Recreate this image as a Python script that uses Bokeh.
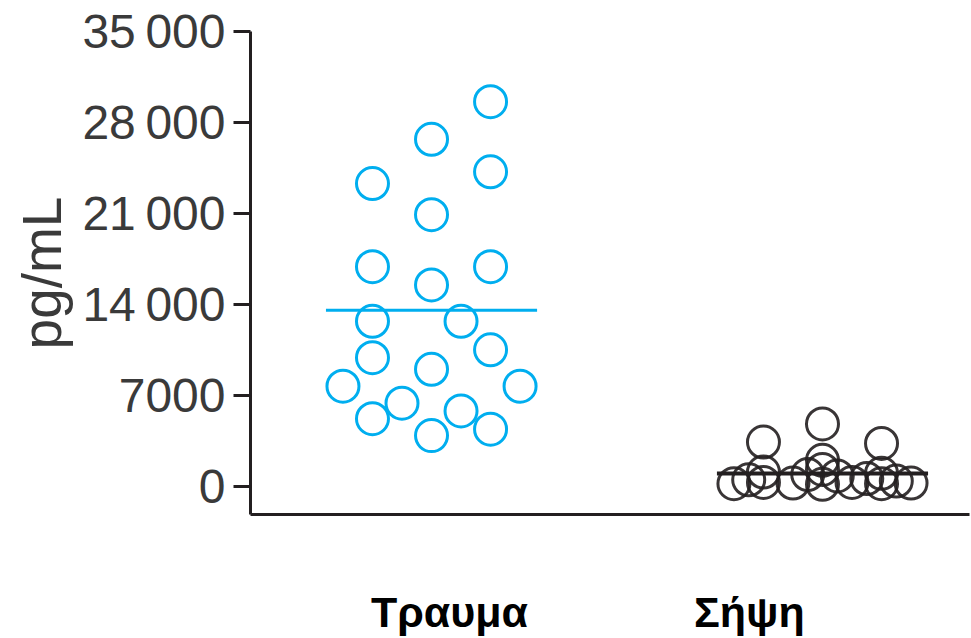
from bokeh.plotting import figure
from bokeh.models import FixedTicker, Range1d
from bokeh.embed import file_html
from bokeh.resources import INLINE

# ---- data ----
groups = ["Τραυμα", "Σήψη"]
group_pos = [1, 2]                 # x position of each group
label_pos = [1.046, 1.813]         # where the group names are printed

trauma_values = [29600, 26700, 24200, 23300, 20900, 16900, 16900, 15500, 12700, 12700,
                 10500, 9900, 9000, 7700, 7700, 6400, 5200, 5800, 4400, 3900]
trauma_slots = [2, 0, 2, -2, 0, -2, 2, 0, -2, 1,
                2, -2, 0, -3, 3, -1, -2, 1, 2, 0]

sepsis_values = [3400, 4800, 3300, 200, 300, 250, 150, 300, 200, 250,
                 1100, 2000, 1300, 900, 800, 1000, 600, 500, 400]
sepsis_slots = [-2, 0, 2, -3, -2, -1, 0, 1, 2, 3,
                -2, 0, 0, -0.5, 0.5, 2, 1.5, -2.5, 2.5]

means = [13550, 990]

y_ticks = [0, 7000, 14000, 21000, 28000, 35000]
y_tick_labels = ["0", "7000", "14\u2009000", "21\u2009000", "28\u2009000", "35\u2009000"]

# ---- styling ----
slot_step = 0.0755
half_width = 0.27
blue = "#00AEEF"
dark = "#231F20"
tick_col = "#3a3a3a"

p = figure(width=971, height=638, output_backend="svg", toolbar_location=None,
           x_range=Range1d(0.537, 2.376), y_range=Range1d(-2170, 35000),
           min_border_left=250, min_border_right=2, min_border_top=31, min_border_bottom=124)
p.outline_line_color = None
p.xgrid.visible = False
p.ygrid.visible = False
p.background_fill_color = "white"
p.border_fill_color = "white"

tx = [group_pos[0] + s * slot_step for s in trauma_slots]
sx = [group_pos[1] + s * slot_step for s in sepsis_slots]

p.scatter(x=sx, y=sepsis_values, size=32, marker="circle", fill_color=None,
          line_color=dark, line_width=3, line_alpha=0.9)
p.scatter(x=tx, y=trauma_values, size=32, marker="circle", fill_color=None,
          line_color=blue, line_width=3)

p.segment(x0=[group_pos[0] - half_width], x1=[group_pos[0] + half_width],
          y0=[means[0]], y1=[means[0]], line_color=blue, line_width=3)
p.segment(x0=[group_pos[1] - half_width], x1=[group_pos[1] + half_width],
          y0=[means[1]], y1=[means[1]], line_color=dark, line_width=4)

# y axis
ya = p.yaxis[0]
ya.ticker = FixedTicker(ticks=y_ticks)
ya.major_label_overrides = {t: l for t, l in zip(y_ticks, y_tick_labels)}
ya.axis_line_width = 3
ya.axis_line_color = dark
ya.major_tick_line_width = 3
ya.major_tick_line_color = dark
ya.major_tick_out = 17
ya.major_tick_in = 0
ya.minor_tick_line_color = None
ya.major_label_text_font = "Liberation Sans"
ya.major_label_text_font_size = "48px"
ya.major_label_text_color = tick_col
ya.major_label_standoff = 8
ya.axis_label = "pg/mL"
ya.axis_label_text_font = "Liberation Sans"
ya.axis_label_text_font_size = "55px"
ya.axis_label_text_font_style = "normal"
ya.axis_label_text_color = tick_col
ya.axis_label_standoff = 6

# x axis
xa = p.xaxis[0]
xa.ticker = FixedTicker(ticks=label_pos)
xa.major_label_overrides = {lp: g for lp, g in zip(label_pos, groups)}
xa.axis_line_width = 3
xa.axis_line_color = dark
xa.major_tick_line_color = None
xa.minor_tick_line_color = None
xa.major_label_text_font = "Liberation Sans"
xa.major_label_text_font_style = "bold"
xa.major_label_text_font_size = "43px"
xa.major_label_text_color = "black"
xa.major_label_standoff = 67

open("out.html", "w").write(file_html(p, INLINE))
